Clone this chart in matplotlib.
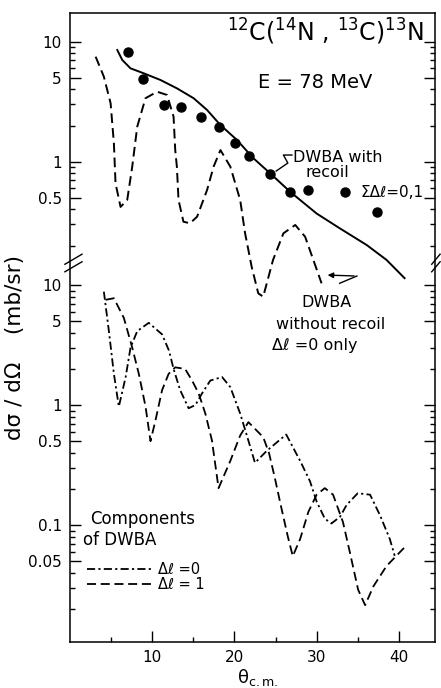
import matplotlib
matplotlib.use('Agg')
import matplotlib.pyplot as plt
from matplotlib.ticker import FixedLocator, FixedFormatter, NullFormatter

# ---- upper panel: data and DWBA curves (mb/sr vs theta c.m.)
exp_theta = [7.0, 8.9, 11.4, 13.5, 15.9, 18.1, 20.1, 21.8, 24.3, 26.8, 28.9, 33.4, 37.3]
exp_xsec = [8.2, 4.9, 2.97, 2.84, 2.37, 1.96, 1.42, 1.12, 0.79, 0.56, 0.58, 0.556, 0.383]

recoil_theta = [5.75, 6.36, 7.36, 8.98, 11.0, 13.0, 15.04, 16.67, 18.3, 20.3, 22.3,
                24.35, 26.8, 30.0, 32.8, 36.1, 38.5, 40.7]
recoil_xsec = [8.53, 7.04, 6.0, 5.45, 4.8, 4.09, 3.38, 2.7, 2.02, 1.52, 1.07,
               0.80, 0.56, 0.37, 0.279, 0.202, 0.152, 0.107]

norecoil_theta = [3.12, 4.12, 4.94, 5.34, 5.54, 6.15, 6.96, 7.57, 8.18, 9.18, 10.6, 11.8,
                  12.6, 12.8, 13.0, 13.2, 13.8, 14.6, 15.46, 16.67, 17.47, 18.3, 19.5,
                  20.7, 21.3, 22.1, 22.9, 23.5, 24.7, 25.96, 27.4, 28.6, 29.6, 30.6]
norecoil_xsec = [7.5, 5.11, 3.07, 1.42, 0.66, 0.42, 0.48, 0.91, 1.96, 3.38, 3.83, 3.6,
                 2.37, 1.25, 0.91, 0.48, 0.316, 0.307, 0.348, 0.58, 0.91, 1.25, 0.91,
                 0.48, 0.253, 0.133, 0.08, 0.075, 0.152, 0.253, 0.297, 0.237, 0.152, 0.097]

# ---- lower panel: components of DWBA
dl0_theta = [4.12, 4.73, 5.34, 5.94, 6.77, 7.36, 8.18, 9.58, 11.2, 12.05, 12.6, 13.4,
             14.43, 15.25, 16.06, 17.07, 18.5, 19.5, 20.7, 21.7, 22.5, 23.95, 26.3,
             28.0, 29.2, 30.0, 31.0, 31.8, 32.84, 33.65, 35.0, 36.5, 37.7, 38.9, 39.5]
dl0_xsec = [8.8, 4.13, 1.82, 0.97, 1.71, 3.01, 4.13, 4.84, 3.88, 2.83, 2.0, 1.33,
            0.94, 1.0, 1.25, 1.6, 1.71, 1.41, 0.85, 0.505, 0.33, 0.416, 0.568,
            0.342, 0.231, 0.157, 0.113, 0.103, 0.117, 0.147, 0.184, 0.179, 0.121, 0.0766, 0.0554]

dl1_theta = [4.33, 5.34, 6.55, 7.57, 8.37, 9.19, 9.79, 10.4, 11.2, 12.0, 12.8, 14.0,
             14.85, 15.65, 16.46, 17.27, 18.07, 19.5, 20.7, 21.7, 23.5, 24.2, 24.9,
             25.7, 26.5, 27.1, 28.0, 29.0, 30.0, 31.0, 32.0, 33.2, 34.05, 35.05, 35.9,
             36.9, 38.5, 39.7, 40.9]
dl1_xsec = [7.53, 7.76, 5.32, 3.01, 1.82, 0.97, 0.5, 0.746, 1.33, 1.82, 2.06, 2.0,
            1.6, 1.25, 0.85, 0.505, 0.203, 0.342, 0.557, 0.72, 0.54, 0.40, 0.25,
            0.14, 0.08, 0.055, 0.0766, 0.129, 0.179, 0.203, 0.179, 0.106, 0.059, 0.0289, 0.0215,
            0.0308, 0.0455, 0.0554, 0.0673]

up_major = [0.5, 1, 5, 10]
up_labels = ['0.5', '1', '5', '10']
up_minor = [0.2, 0.3, 0.4, 0.6, 0.7, 0.8, 0.9, 2, 3, 4, 6, 7, 8, 9]
low_major = [0.05, 0.1, 0.5, 1, 5, 10]
low_labels = ['0.05', '0.1', '0.5', '1', '5', '10']
low_minor = [0.02, 0.03, 0.04, 0.06, 0.07, 0.08, 0.09,
             0.2, 0.3, 0.4, 0.6, 0.7, 0.8, 0.9, 2, 3, 4, 6, 7, 8, 9]

plt.rcParams['font.family'] = 'DejaVu Sans'

fig = plt.figure(figsize=(4.41, 6.88), dpi=100)
rect = [70 / 441, 46 / 688, 365 / 441, 629 / 688]
ax = fig.add_axes(rect)
ax_up = fig.add_axes(rect)
ax_up.patch.set_alpha(0)

for a in (ax, ax_up):
    a.set_xlim(0, 44.4)
    a.set_yscale('log')

ax.set_ylim(0.0106, 1848)
ax_up.set_ylim(9.94e-5, 17.35)

# lower axes: frame, x ticks and lower y ticks
ax.yaxis.set_major_locator(FixedLocator(low_major))
ax.yaxis.set_major_formatter(FixedFormatter(low_labels))
ax.yaxis.set_minor_locator(FixedLocator(low_minor))
ax.yaxis.set_minor_formatter(NullFormatter())
ax.set_xticks([10, 20, 30, 40])
ax.set_xticks([5, 15, 25, 35], minor=True)
ax.tick_params(which='both', direction='in', right=True, top=False, width=1.0,
               labelsize=11, pad=6)
ax.tick_params(which='major', length=8)
ax.tick_params(which='minor', length=3.3)
for s in ax.spines.values():
    s.set_linewidth(1.1)

# upper axes: only y ticks for the upper part
ax_up.yaxis.set_major_locator(FixedLocator(up_major))
ax_up.yaxis.set_major_formatter(FixedFormatter(up_labels))
ax_up.yaxis.set_minor_locator(FixedLocator(up_minor))
ax_up.yaxis.set_minor_formatter(NullFormatter())
ax_up.tick_params(axis='x', which='both', bottom=False, labelbottom=False)
ax_up.tick_params(axis='y', which='both', direction='in', left=True, right=True,
                  width=1.0, labelsize=11, pad=6)
ax_up.tick_params(which='major', length=8)
ax_up.tick_params(which='minor', length=3.3)
for s in ax_up.spines.values():
    s.set_visible(False)

# curves
ax_up.plot(recoil_theta, recoil_xsec, color='k', lw=1.4)
ax_up.plot(norecoil_theta, norecoil_xsec, color='k', lw=1.4, ls=(0, (5, 2.6)))
ax_up.plot(exp_theta, exp_xsec, 'o', color='k', ms=6.5)

l0, = ax.plot(dl0_theta, dl0_xsec, color='k', lw=1.3, ls=(0, (4.5, 1.8, 1.2, 1.8)))
l1, = ax.plot(dl1_theta, dl1_xsec, color='k', lw=1.3, ls=(0, (5, 2.6)))

# axis break marks
yb = (642 - 263) / 629
for x0, x1 in ((-0.014, 0.033), (-0.009, 0.014)):
    for off in (-0.006, 0.006):
        base = 0 if x1 > 0.02 else 1
        ax.plot([base + x0, base + x1], [yb + off - 0.008, yb + off + 0.008],
                transform=ax.transAxes, color='k', lw=1.0, clip_on=False)

# texts
ax.text(0.70, 0.970, r'$^{12}$C($^{14}$N , $^{13}$C)$^{13}$N', transform=ax.transAxes,
        fontsize=17, ha='center', va='center')
ax.text(0.671, 0.890, 'E = 78 MeV', transform=ax.transAxes, fontsize=14,
        ha='center', va='center')
ax.text(0.611, 0.771, 'DWBA with', transform=ax.transAxes, fontsize=11.5,
        ha='left', va='center')
ax.text(0.644, 0.746, 'recoil', transform=ax.transAxes, fontsize=11.5,
        ha='left', va='center')
ax.text(0.795, 0.715, 'ΣΔℓ=0,1', transform=ax.transAxes, fontsize=11,
        ha='left', va='center')
ax.text(0.704, 0.539, 'DWBA', transform=ax.transAxes, fontsize=11.5,
        ha='center', va='center')
ax.text(0.715, 0.504, 'without recoil', transform=ax.transAxes, fontsize=11.5,
        ha='center', va='center')
ax.text(0.553, 0.472, 'Δℓ =0 only', transform=ax.transAxes, fontsize=11.5,
        ha='left', va='center')
ax.text(0.055, 0.1956, 'Components', transform=ax.transAxes, fontsize=12,
        ha='left', va='center')
ax.text(0.036, 0.1622, 'of DWBA', transform=ax.transAxes, fontsize=12,
        ha='left', va='center')

# pointers
ax_up.plot([27.0, 25.96, 26.5, 25.08], [1.137, 1.137, 0.975, 0.836], color='k', lw=1.0)
ax_up.plot([32.8, 34.9], [0.097, 0.1115], color='k', lw=1.0)
ax_up.annotate('', xy=(31.0, 0.1137), xytext=(34.9, 0.1115),
               arrowprops=dict(arrowstyle='-|>', color='k', lw=1.0, mutation_scale=8))

ax.legend(handles=[l0, l1], labels=['Δℓ =0', 'Δℓ = 1'], loc='upper left',
          bbox_to_anchor=(0.0466, 0.127), frameon=False, fontsize=10.5,
          handlelength=4.6, handletextpad=0.3, labelspacing=0.0,
          borderpad=0, borderaxespad=0)

fig.text(15 / 441, 1 - 347 / 688, 'dσ / dΩ    (mb/sr)', rotation=90, fontsize=15.5,
         ha='center', va='center')
fig.text(258 / 441, 1 - 677 / 688, 'θ$_{\\rm c.m.}$', fontsize=13,
         ha='center', va='center')

fig.savefig('out.png', dpi=100)
